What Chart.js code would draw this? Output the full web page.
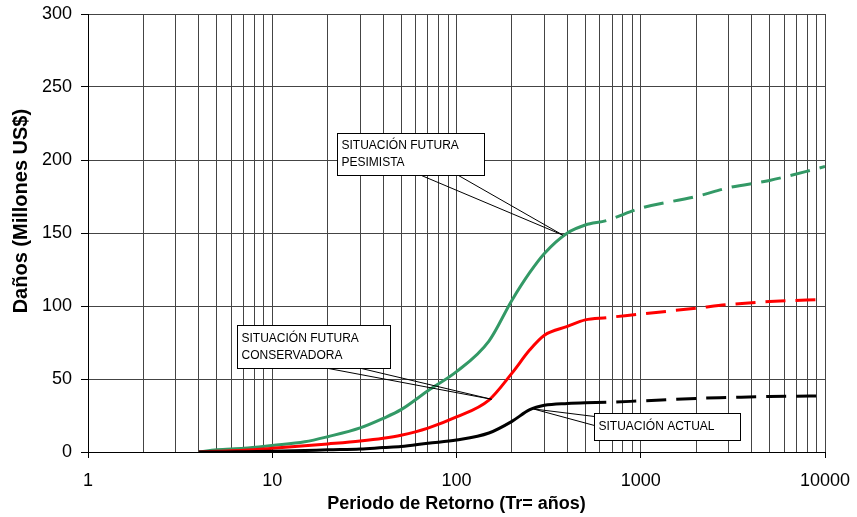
<!DOCTYPE html>
<html>
<head>
<meta charset="utf-8">
<script src="https://cdn.jsdelivr.net/npm/chart.js@4.4.1/dist/chart.umd.min.js"></script>
<style>
  html, body { margin: 0; padding: 0; background: #fff; }
  #wrap { width: 857px; height: 517px; }
</style>
</head>
<body>
<div id="wrap"><canvas id="chart-danos" width="857" height="517"></canvas></div>
<script>
// return periods (years) and damages (millions US$)
const returnPeriods = [4, 5, 7, 10, 15, 20, 30, 40, 50, 70, 100, 150, 200, 250, 300, 400, 500, 650, 1000, 2000, 3000, 5000, 10000];
const situacionActual = [0, 0, 0.2, 0.5, 1, 1.5, 2, 3, 3.7, 6, 8.2, 13, 21, 29, 32, 33.3, 33.8, 34, 35, 36.7, 37.3, 38, 38.5];
const futuraConservadora = [0, 0.5, 1.2, 2.5, 4.2, 5.5, 7.5, 9.4, 11.5, 16.4, 24, 35.6, 54, 70, 80, 86, 90.5, 92, 94.5, 98.5, 101, 103, 104.5];
const futuraPesimista = [0, 1.5, 2.5, 4.5, 7, 10.5, 16.5, 23, 29, 42, 55, 76, 104, 123, 136, 150, 155.5, 158.5, 167, 175, 181, 186, 195.5];
const extrapolatedFrom = 650; // beyond this the curves are dashed

const xTicks = [];
for (let e = 0; e < 4; e++) {
    for (let s = 1; s <= 9; s++) xTicks.push(s * Math.pow(10, e));
}
xTicks.push(10000);
const yTicks = [0, 50, 100, 150, 200, 250, 300];
const yTitle = 'Daños (Millones US$)';

const isDecade = v => Math.abs(Math.log10(v) - Math.round(Math.log10(v))) < 1e-9;

function toPoints(values) {
    return returnPeriods.map((x, i) => ({ x: x, y: values[i] }));
}

function makeSeries(label, values, color) {
    return {
        label: label,
        data: toPoints(values),
        borderColor: color,
        borderWidth: 3,
        pointRadius: 0,
        fill: false,
        cubicInterpolationMode: 'monotone',
        segment: {
            borderDash: ctx => ctx.p0.parsed.x >= extrapolatedFrom ? [20, 10] : undefined,
            borderDashOffset: ctx => ctx.p0.parsed.x >= extrapolatedFrom ? 20 : 0
        }
    };
}

// callout boxes: box top-left and tip in data units, box size and wedge base in px
const callouts = [
    { lines: ['SITUACIÓN FUTURA', 'PESIMISTA'], at: [22.55, 218.3], size: [147, 42], base: [[84, 42], [121, 42]], tip: [377, 148.6] },
    { lines: ['SITUACIÓN FUTURA', 'CONSERVADORA'], at: [6.46, 86.8], size: [153, 43], base: [[91, 43], [124, 43]], tip: [155.3, 36.1] },
    { lines: ['SITUACIÓN ACTUAL'], at: [559.8, 26.5], size: [146, 27], base: [[0, 3], [0, 12]], tip: [261, 29.5] }
];

const calloutPlugin = {
    id: 'callouts',
    afterDatasetsDraw(chart) {
        const ctx = chart.ctx;
        const xs = chart.scales.x, ys = chart.scales.y;
        ctx.save();
        callouts.forEach(c => {
            const bx = Math.round(xs.getPixelForValue(c.at[0])) + 0.5;
            const by = Math.round(ys.getPixelForValue(c.at[1])) + 0.5;
            const tx = xs.getPixelForValue(c.tip[0]);
            const ty = ys.getPixelForValue(c.tip[1]);
            ctx.fillStyle = '#fff';
            ctx.strokeStyle = '#000';
            ctx.lineWidth = 1;
            ctx.fillRect(bx, by, c.size[0], c.size[1]);
            ctx.strokeRect(bx, by, c.size[0], c.size[1]);
            ctx.beginPath();
            ctx.moveTo(bx + c.base[0][0], by + c.base[0][1]);
            ctx.lineTo(tx, ty);
            ctx.lineTo(bx + c.base[1][0], by + c.base[1][1]);
            ctx.stroke();
            ctx.fillStyle = '#000';
            ctx.font = '12px "Liberation Sans", Arial, sans-serif';
            ctx.textBaseline = 'middle';
            ctx.textAlign = 'left';
            const lineH = 17;
            const top = by + c.size[1] / 2 - (c.lines.length - 1) * lineH / 2;
            c.lines.forEach((t, i) => ctx.fillText(t, bx + 4, top + i * lineH));
        });
        ctx.restore();
    },
    afterDraw(chart) {
        // y title sits a bit above the middle of the axis in the original
        const ctx = chart.ctx;
        const ys = chart.scales.y;
        ctx.save();
        ctx.translate(21, ys.getPixelForValue(165));
        ctx.rotate(-Math.PI / 2);
        ctx.font = 'bold 20px "Liberation Sans", Arial, sans-serif';
        ctx.fillStyle = '#000';
        ctx.textAlign = 'center';
        ctx.textBaseline = 'middle';
        ctx.fillText(yTitle, 0, 0);
        ctx.restore();
    }
};

Chart.defaults.font.family = '"Liberation Sans", Arial, sans-serif';
Chart.defaults.color = '#000';

new Chart(document.getElementById('chart-danos'), {
    type: 'line',
    data: {
        datasets: [
            makeSeries('Situación actual', situacionActual, '#000000'),
            makeSeries('Situación futura conservadora', futuraConservadora, '#ff0000'),
            makeSeries('Situación futura pesimista', futuraPesimista, '#339966')
        ]
    },
    options: {
        responsive: false,
        animation: false,
        devicePixelRatio: 1,
        layout: { padding: { left: 0, right: 32, top: 14, bottom: 0 } },
        plugins: { legend: { display: false }, tooltip: { enabled: false } },
        scales: {
            x: {
                type: 'logarithmic',
                min: 1,
                max: 10000,
                afterBuildTicks: scale => { scale.ticks = xTicks.map(v => ({ value: v })); },
                afterFit: scale => {
                    scale.height = 65;
                    scale.paddingLeft = 0;
                    scale.paddingRight = 0;
                },
                ticks: {
                    autoSkip: false,
                    maxRotation: 0,
                    padding: 12,
                    font: { size: 18 },
                    callback: v => isDecade(v) ? String(v) : ''
                },
                grid: {
                    color: '#444',
                    lineWidth: 1,
                    tickLength: 6,
                    tickColor: ctx => (ctx.tick && isDecade(ctx.tick.value)) ? '#000' : 'rgba(0,0,0,0)'
                },
                border: { color: '#000', width: 1 },
                title: {
                    display: true,
                    text: 'Periodo de Retorno (Tr= años)',
                    font: { size: 18, weight: 'bold' },
                    padding: { top: 0, bottom: 2 }
                }
            },
            y: {
                min: 0,
                max: 300,
                afterBuildTicks: scale => { scale.ticks = yTicks.map(v => ({ value: v })); },
                afterFit: scale => {
                    scale.width = 88;
                    scale.paddingTop = 0;
                    scale.paddingBottom = 0;
                },
                ticks: { padding: 9, font: { size: 18 } },
                grid: { color: '#444', lineWidth: 1, tickLength: 7, tickColor: '#000' },
                border: { color: '#000', width: 1 }
            }
        }
    },
    plugins: [calloutPlugin]
});
</script>
</body>
</html>
